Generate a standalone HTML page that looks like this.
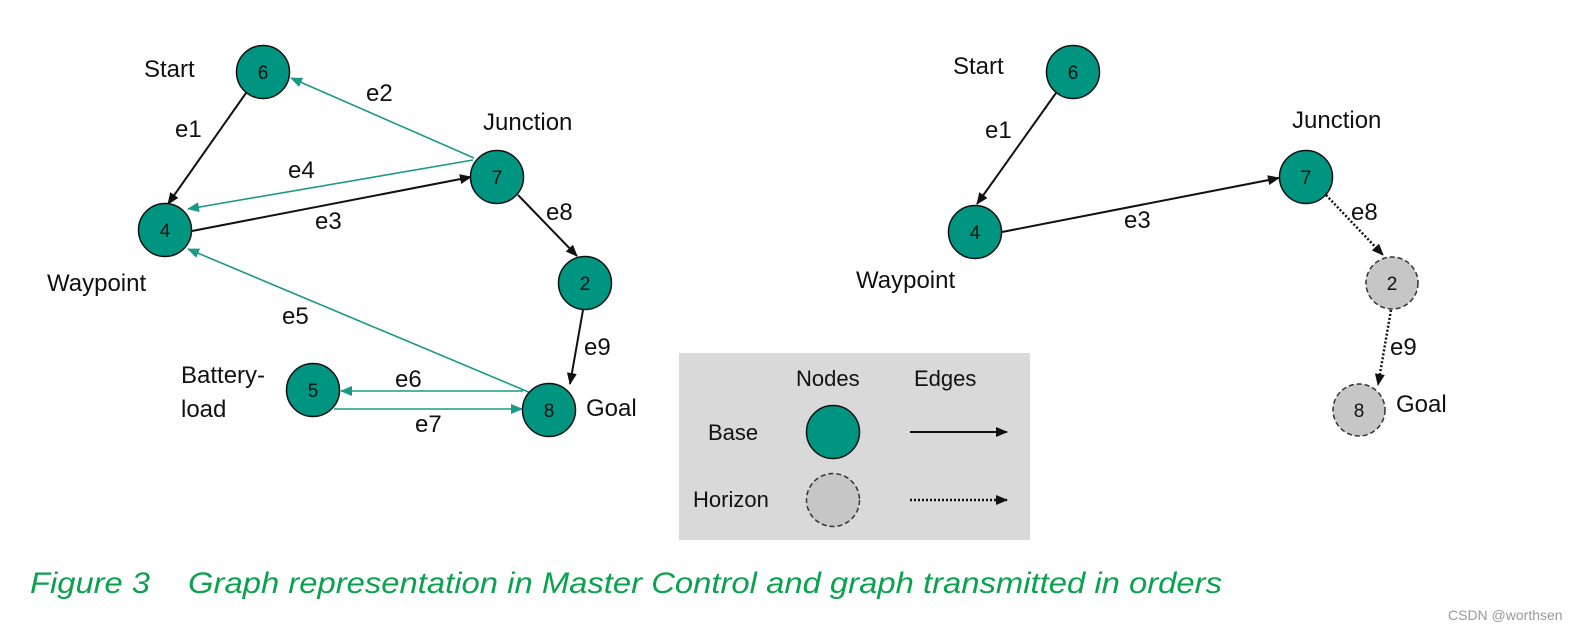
<!DOCTYPE html>
<html><head><meta charset="utf-8"><style>
html,body{margin:0;padding:0;background:#fff;width:1569px;height:631px;overflow:hidden}
svg{display:block}
text{font-family:"Liberation Sans",Arial,sans-serif;fill:#111}
</style></head><body>
<svg width="1569" height="631" viewBox="0 0 1569 631" xmlns="http://www.w3.org/2000/svg">
<defs>
<marker id="ak" markerWidth="12" markerHeight="10" refX="11" refY="5" orient="auto" markerUnits="userSpaceOnUse"><path d="M0,0 L12,5 L0,10 z" fill="#111"/></marker>
<marker id="ag" markerWidth="12" markerHeight="10" refX="11" refY="5" orient="auto" markerUnits="userSpaceOnUse"><path d="M0,0 L12,5 L0,10 z" fill="#1a9a86"/></marker>
</defs>
<g stroke-width="1.6" fill="none">
<line x1="474" y1="158" x2="291" y2="78" stroke="#1a9a86" marker-end="url(#ag)"/>
<line x1="473" y1="160" x2="188" y2="209" stroke="#1a9a86" marker-end="url(#ag)"/>
<line x1="531" y1="393" x2="188" y2="249" stroke="#1a9a86" marker-end="url(#ag)"/>
<line x1="523" y1="391" x2="341" y2="391" stroke="#1a9a86" marker-end="url(#ag)"/>
<line x1="334" y1="409" x2="522" y2="409" stroke="#1a9a86" marker-end="url(#ag)"/>
</g>
<g stroke="#111" stroke-width="2" fill="none">
<line x1="246" y1="93" x2="168" y2="204" marker-end="url(#ak)"/>
<line x1="192" y1="231" x2="471" y2="177" marker-end="url(#ak)"/>
<line x1="518" y1="195" x2="577" y2="256" marker-end="url(#ak)"/>
<line x1="583" y1="310" x2="570" y2="384" marker-end="url(#ak)"/>
</g>
<g fill="#009580" stroke="#111" stroke-width="1.5">
<circle cx="263" cy="72" r="26.5"/>
<circle cx="497" cy="177" r="26.5"/>
<circle cx="165" cy="230" r="26.5"/>
<circle cx="585" cy="283" r="26.5"/>
<circle cx="313" cy="390" r="26.5"/>
<circle cx="549" cy="410" r="26.5"/>
</g>
<g font-size="19" text-anchor="middle">
<text x="263" y="79">6</text><text x="497" y="184">7</text><text x="165" y="237">4</text>
<text x="585" y="290">2</text><text x="313" y="397">5</text><text x="549" y="417">8</text>
</g>
<g font-size="24">
<text x="144" y="77">Start</text>
<text x="483" y="130">Junction</text>
<text x="47" y="291">Waypoint</text>
<text x="181" y="383">Battery-</text>
<text x="181" y="417">load</text>
<text x="586" y="416">Goal</text>
<text x="366" y="101">e2</text>
<text x="175" y="137">e1</text>
<text x="288" y="178">e4</text>
<text x="315" y="229">e3</text>
<text x="546" y="220">e8</text>
<text x="282" y="324">e5</text>
<text x="584" y="355">e9</text>
<text x="395" y="387">e6</text>
<text x="415" y="432">e7</text>
</g>
<g stroke="#111" stroke-width="2" fill="none">
<line x1="1056" y1="93" x2="977" y2="204" marker-end="url(#ak)"/>
<line x1="1002" y1="232" x2="1279" y2="178" marker-end="url(#ak)"/>
</g>
<g stroke="#111" stroke-width="2.5" stroke-dasharray="2,2" fill="none">
<line x1="1326" y1="195" x2="1383" y2="255" marker-end="url(#ak)"/>
<line x1="1391" y1="310" x2="1378" y2="385" marker-end="url(#ak)"/>
</g>
<g fill="#009580" stroke="#111" stroke-width="1.5">
<circle cx="1073" cy="72" r="26.5"/>
<circle cx="1306" cy="177" r="26.5"/>
<circle cx="975" cy="232" r="26.5"/>
</g>
<g fill="#c6c6c6" stroke="#333" stroke-width="1.5" stroke-dasharray="5,3">
<circle cx="1392" cy="283" r="26"/>
<circle cx="1359" cy="410" r="26"/>
</g>
<g font-size="19" text-anchor="middle">
<text x="1073" y="79">6</text><text x="1306" y="184">7</text><text x="975" y="239">4</text>
<text x="1392" y="290">2</text><text x="1359" y="417">8</text>
</g>
<g font-size="24">
<text x="953" y="74">Start</text>
<text x="1292" y="128">Junction</text>
<text x="856" y="288">Waypoint</text>
<text x="1396" y="412">Goal</text>
<text x="985" y="138">e1</text>
<text x="1124" y="228">e3</text>
<text x="1351" y="220">e8</text>
<text x="1390" y="355">e9</text>
</g>
<rect x="679" y="353" width="351" height="187" fill="#d9d9d9"/>
<g font-size="22">
<text x="796" y="386">Nodes</text>
<text x="914" y="386">Edges</text>
<text x="708" y="440">Base</text>
<text x="693" y="507">Horizon</text>
</g>
<circle cx="833" cy="432" r="26.5" fill="#009580" stroke="#111" stroke-width="1.5"/>
<circle cx="833" cy="500" r="26.5" fill="#c6c6c6" stroke="#333" stroke-width="1.5" stroke-dasharray="5,3"/>
<line x1="910" y1="432" x2="1007" y2="432" stroke="#111" stroke-width="2" marker-end="url(#ak)"/>
<line x1="910" y1="500" x2="1007" y2="500" stroke="#111" stroke-width="2.5" stroke-dasharray="2,2" marker-end="url(#ak)"/>
<text x="30" y="593" font-size="30" font-style="italic" style="fill:#0aa24e" textLength="120" lengthAdjust="spacingAndGlyphs">Figure 3</text>
<text x="188" y="593" font-size="30" font-style="italic" style="fill:#0aa24e" textLength="1034" lengthAdjust="spacingAndGlyphs">Graph representation in Master Control and graph transmitted in orders</text>
<text x="1448" y="620" font-size="14" style="fill:#999">CSDN @worthsen</text>
</svg>
</body></html>
